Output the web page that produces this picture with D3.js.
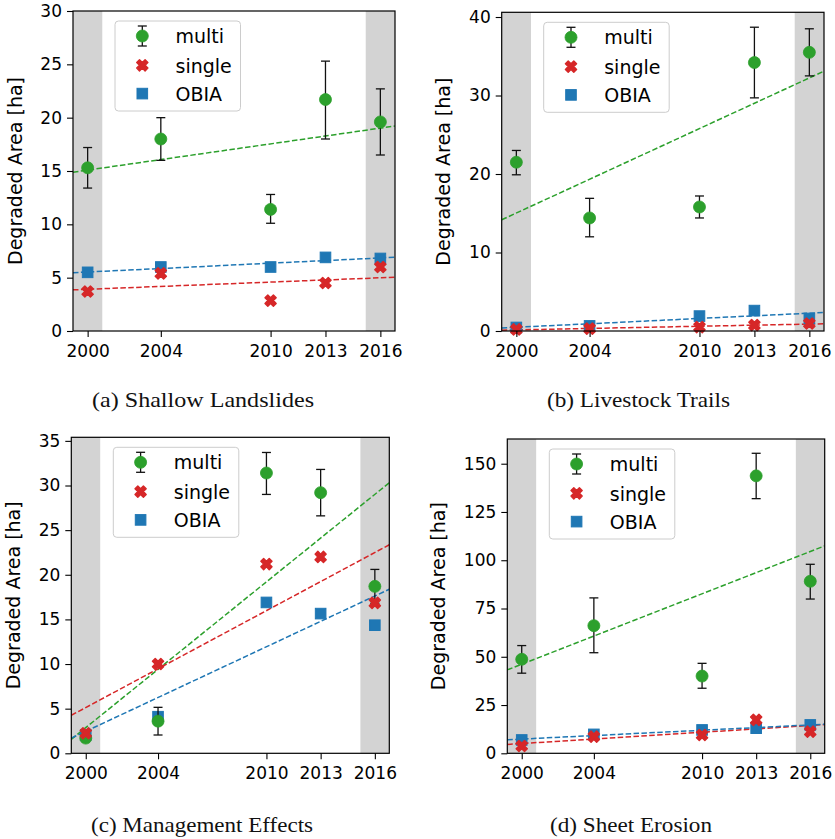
<!DOCTYPE html>
<html>
<head>
<meta charset="utf-8">
<script src="https://cdn.jsdelivr.net/npm/d3@7/dist/d3.min.js"></script>
<style>
  body { margin: 0; background: #fff; }
  svg { display: block; }
</style>
</head>
<body>
<div id="chart"></div>
<script>
// --- data ---
const years = [2000, 2004, 2010, 2013, 2016];
const seriesNames = ["multi", "single", "OBIA"];
const captions = ["(a) Shallow Landslides", "(b) Livestock Trails", "(c) Management Effects", "(d) Sheet Erosion"];

// shaded periods (years)
const bandStarts = [1999.2, 2015.2];
const bandEnds = [2000.8, 2016.8];

// (a) Shallow Landslides
const multiShallow = [15.3, 18.0, 11.4, 21.7, 19.6];
const multiShallowLo = [13.4, 16.0, 10.1, 18.0, 16.5];
const multiShallowHi = [17.2, 20.0, 12.8, 25.3, 22.7];
const singleShallow = [3.7, 5.4, 2.85, 4.5, 6.0];
const obiaShallow = [5.5, 6.0, 6.0, 6.9, 6.8];

// (b) Livestock Trails
const multiLivestock = [21.5, 14.4, 15.8, 34.2, 35.5];
const multiLivestockLo = [19.9, 12.0, 14.4, 29.7, 32.5];
const multiLivestockHi = [23.0, 16.9, 17.2, 38.7, 38.5];
const singleLivestock = [0.2, 0.3, 0.5, 0.75, 0.95];
const obiaLivestock = [0.45, 0.65, 1.9, 2.6, 1.6];

// (c) Management Effects
const multiManagement = [1.7, 3.6, 31.4, 29.2, 18.7];
const multiManagementLo = [1.4, 2.05, 29.0, 26.6, 16.8];
const multiManagementHi = [2.0, 5.15, 33.7, 31.8, 20.6];
const singleManagement = [2.25, 10.0, 21.2, 22.0, 16.85];
const obiaManagement = [2.05, 4.1, 16.9, 15.65, 14.35];

// (d) Sheet Erosion
const multiSheet = [48.7, 66.1, 40.0, 143.7, 89.1];
const multiSheetLo = [41.5, 52.1, 33.7, 131.9, 79.9];
const multiSheetHi = [55.8, 80.5, 46.6, 155.4, 97.9];
const singleSheet = [3.8, 8.6, 9.5, 17.3, 11.2];
const obiaSheet = [6.9, 9.8, 12.1, 13.0, 14.7];

// y axis limits and ticks per panel
const yMaxes = [30, 40.6, 35.4, 162.8];
const yTickSteps = [5, 10, 5, 25];
const yTickTops = [30, 40, 35, 150];

// --- layout ---
const W = 835, H = 839;
const colors = { multi: "#2ca02c", single: "#d62728", OBIA: "#1f77b4" };
const boxes = [
  { l: 73, r: 395, t: 11, b: 331, labelX: 22.3, capX: 92, capY: 407, capW: 222 },
  { l: 501.7, r: 824, t: 12.3, b: 331, labelX: 449.6, capX: 547, capY: 407, capW: 183 },
  { l: 71.3, r: 389.3, t: 437.3, b: 753.3, labelX: 20.3, capX: 91, capY: 831.5, capW: 222 },
  { l: 507.3, r: 824.7, t: 439, b: 753.3, labelX: 444.6, capX: 550, capY: 831.5, capW: 162 }
];

const panels = [
  { multi: multiShallow, lo: multiShallowLo, hi: multiShallowHi, single: singleShallow, obia: obiaShallow },
  { multi: multiLivestock, lo: multiLivestockLo, hi: multiLivestockHi, single: singleLivestock, obia: obiaLivestock },
  { multi: multiManagement, lo: multiManagementLo, hi: multiManagementHi, single: singleManagement, obia: obiaManagement },
  { multi: multiSheet, lo: multiSheetLo, hi: multiSheetHi, single: singleSheet, obia: obiaSheet }
];

const svg = d3.select("#chart").append("svg")
  .attr("width", W)
  .attr("height", H)
  .style("font-family", "'DejaVu Sans', sans-serif");

// least squares trend over the years
function fitLine(xs, ys) {
  const mx = d3.mean(xs), my = d3.mean(ys);
  const sxy = d3.sum(xs, (x, i) => (x - mx) * (ys[i] - my));
  const sxx = d3.sum(xs, x => (x - mx) * (x - mx));
  const slope = sxy / sxx;
  return x => my + slope * (x - mx);
}

// filled "X" marker (matplotlib style), edge drawn in the same colour
const xMarker = d3.symbol().type(d3.symbolCross).size(78);

function drawX(sel) {
  return sel.attr("d", xMarker)
    .attr("fill", colors.single)
    .attr("stroke", colors.single)
    .attr("stroke-width", 1.4)
    .attr("stroke-linejoin", "round");
}

panels.forEach((p, i) => {
  const box = boxes[i];
  const x = d3.scaleLinear().domain([1999.2, 2016.8]).range([box.l, box.r]);
  const y = d3.scaleLinear().domain([0, yMaxes[i]]).range([box.b, box.t]);
  const g = svg.append("g");

  const clipId = "clip" + i;
  svg.append("clipPath").attr("id", clipId)
    .append("rect")
    .attr("x", box.l).attr("y", box.t)
    .attr("width", box.r - box.l).attr("height", box.b - box.t);

  // shaded bands
  g.selectAll(".band")
    .data(bandStarts.map((s, k) => [s, bandEnds[k]]))
    .enter()
    .append("rect")
    .attr("x", d => x(d[0]))
    .attr("y", box.t)
    .attr("width", d => x(d[1]) - x(d[0]))
    .attr("height", box.b - box.t)
    .attr("fill", "#d3d3d3");

  // trend lines
  const trends = [
    { key: "multi", vals: p.multi },
    { key: "single", vals: p.single },
    { key: "OBIA", vals: p.obia }
  ];
  trends.forEach(tr => {
    const f = fitLine(years, tr.vals);
    const xs = x.domain();
    g.append("line")
      .attr("clip-path", `url(#${clipId})`)
      .attr("x1", x(xs[0])).attr("y1", y(f(xs[0])))
      .attr("x2", x(xs[1])).attr("y2", y(f(xs[1])))
      .attr("stroke", colors[tr.key])
      .attr("stroke-width", 1.5)
      .attr("stroke-dasharray", "5.5,2.4");
  });

  // OBIA squares
  g.selectAll(".obia")
    .data(p.obia)
    .enter()
    .append("rect")
    .attr("x", (d, k) => x(years[k]) - 5.3)
    .attr("y", d => y(d) - 5.3)
    .attr("width", 10.6).attr("height", 10.6)
    .attr("fill", colors.OBIA)
    .attr("stroke", colors.OBIA)
    .attr("stroke-width", 1);

  // multi error bars
  years.forEach((yr, k) => {
    const cx = x(yr);
    const eb = g.append("g").attr("stroke", "#111").attr("stroke-width", 1.3);
    eb.append("line").attr("x1", cx).attr("x2", cx).attr("y1", y(p.lo[k])).attr("y2", y(p.hi[k]));
    eb.append("line").attr("x1", cx - 4.5).attr("x2", cx + 4.5).attr("y1", y(p.lo[k])).attr("y2", y(p.lo[k]));
    eb.append("line").attr("x1", cx - 4.5).attr("x2", cx + 4.5).attr("y1", y(p.hi[k])).attr("y2", y(p.hi[k]));
  });

  g.selectAll(".multi")
    .data(p.multi)
    .enter()
    .append("circle")
    .attr("cx", (d, k) => x(years[k]))
    .attr("cy", d => y(d))
    .attr("r", 6)
    .attr("fill", colors.multi)
    .attr("stroke", colors.multi)
    .attr("stroke-width", 0.8);

  g.selectAll(".single")
    .data(p.single)
    .enter()
    .append("path")
    .call(drawX)
    .attr("transform", (d, k) => `translate(${x(years[k])},${y(d)}) rotate(45)`);

  // axes
  const yTicks = d3.range(0, yTickTops[i] + 0.001, yTickSteps[i]);
  const xAxis = g.append("g")
    .attr("transform", `translate(0,${box.b})`)
    .call(d3.axisBottom(x).tickValues(years).tickFormat(d3.format("d")).tickSize(6).tickPadding(8).tickSizeOuter(0));
  const yAxis = g.append("g")
    .attr("transform", `translate(${box.l},0)`)
    .call(d3.axisLeft(y).tickValues(yTicks).tickSize(6).tickPadding(5).tickSizeOuter(0));
  [xAxis, yAxis].forEach(a => {
    a.select(".domain").remove();
    a.selectAll("text").attr("font-size", 17).attr("font-family", "'DejaVu Sans', sans-serif").attr("fill", "#000");
    a.selectAll("line").attr("stroke", "#000").attr("stroke-width", 1.1);
  });

  // frame
  g.append("rect")
    .attr("x", box.l).attr("y", box.t)
    .attr("width", box.r - box.l).attr("height", box.b - box.t)
    .attr("fill", "none")
    .attr("stroke", "#000")
    .attr("stroke-width", 1.2);

  // y label
  g.append("text")
    .attr("transform", `translate(${box.labelX},${(box.t + box.b) / 2}) rotate(-90)`)
    .attr("text-anchor", "middle")
    .attr("font-size", 19)
    .attr("fill", "#000")
    .text("Degraded Area [ha]");

  // legend
  const lx = box.l + 42, ly = box.t + 10;
  const leg = g.append("g").attr("transform", `translate(${lx},${ly})`);
  leg.append("rect")
    .attr("width", 125.5).attr("height", 90)
    .attr("rx", 3.5)
    .attr("fill", "#fff").attr("fill-opacity", 0.8)
    .attr("stroke", "#cccccc").attr("stroke-width", 1);
  const rows = [15, 44.3, 72.6];
  seriesNames.forEach((name, k) => {
    const ry = rows[k], mx = 27.3;
    if (name === "multi") {
      const eb = leg.append("g").attr("stroke", "#111").attr("stroke-width", 1.3);
      eb.append("line").attr("x1", mx).attr("x2", mx).attr("y1", ry - 10).attr("y2", ry + 10);
      eb.append("line").attr("x1", mx - 4.5).attr("x2", mx + 4.5).attr("y1", ry - 10).attr("y2", ry - 10);
      eb.append("line").attr("x1", mx - 4.5).attr("x2", mx + 4.5).attr("y1", ry + 10).attr("y2", ry + 10);
      leg.append("circle").attr("cx", mx).attr("cy", ry).attr("r", 6)
        .attr("fill", colors.multi).attr("stroke", colors.multi).attr("stroke-width", 0.8);
    } else if (name === "single") {
      leg.append("path").call(drawX)
        .attr("transform", `translate(${mx},${ry}) rotate(45)`);
    } else {
      leg.append("rect").attr("x", mx - 5.3).attr("y", ry - 5.3)
        .attr("width", 10.6).attr("height", 10.6)
        .attr("fill", colors.OBIA).attr("stroke", colors.OBIA).attr("stroke-width", 1);
    }
    leg.append("text")
      .attr("x", 60.5).attr("y", ry + 7.2)
      .attr("font-size", 19)
      .attr("fill", "#000")
      .text(name);
  });

  // caption
  svg.append("text")
    .attr("x", box.capX).attr("y", box.capY)
    .attr("font-family", "'Liberation Serif', 'Times New Roman', serif")
    .attr("font-size", 21)
    .attr("textLength", box.capW)
    .attr("lengthAdjust", "spacingAndGlyphs")
    .attr("fill", "#111")
    .text(captions[i]);
});
</script>
</body>
</html>
